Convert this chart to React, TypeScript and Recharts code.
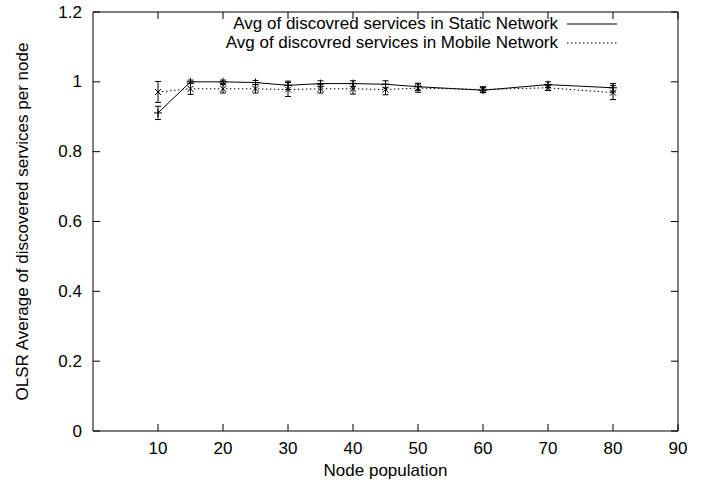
import React from 'react';
import { LineChart, Line, XAxis, YAxis, ErrorBar, Legend } from 'recharts';

const nodes = [10, 15, 20, 25, 30, 35, 40, 45, 50, 60, 70, 80];
const staticAvg = [0.911, 1.0, 1.0, 0.998, 0.99, 0.995, 0.995, 0.993, 0.986, 0.976, 0.992, 0.983];
const staticErr = [0.019, 0.005, 0.005, 0.006, 0.012, 0.008, 0.008, 0.01, 0.01, 0.007, 0.008, 0.012];
const mobileAvg = [0.971, 0.98, 0.98, 0.98, 0.978, 0.98, 0.98, 0.978, 0.982, 0.978, 0.983, 0.969];
const mobileErr = [0.03, 0.016, 0.012, 0.012, 0.02, 0.012, 0.015, 0.015, 0.012, 0.008, 0.008, 0.02];

const xTicks = [10, 20, 30, 40, 50, 60, 70, 80, 90];
const yTicks = [0, 0.2, 0.4, 0.6, 0.8, 1, 1.2];

const staticName = 'Avg of discovred services in Static Network';
const mobileName = 'Avg of discovred services in Mobile Network';

const FONT = '"Liberation Sans", Arial, Helvetica, sans-serif';
const FS = 17;
const TICK = 7;

const data = nodes.map((n, i) => ({
  n,
  s: staticAvg[i],
  sErr: staticErr[i],
  m: mobileAvg[i],
  mErr: mobileErr[i],
}));

const BottomTick = ({ x, y, payload }: any) => (
  <g>
    <line x1={x} x2={x} y1={y} y2={y - TICK} stroke="#000" />
    <text x={x} y={y + 17} textAnchor="middle" dominantBaseline="central"
      fontFamily={FONT} fontSize={FS} fill="#000">{payload.value}</text>
  </g>
);

const TopTick = ({ x, y }: any) => (
  <line x1={x} x2={x} y1={y} y2={y + TICK} stroke="#000" />
);

const LeftTick = ({ x, y, payload }: any) => (
  <g>
    <line x1={x} x2={x + TICK} y1={y} y2={y} stroke="#000" />
    <text x={x - 11} y={y} textAnchor="end" dominantBaseline="central"
      fontFamily={FONT} fontSize={FS} fill="#000">{payload.value}</text>
  </g>
);

const RightTick = ({ x, y }: any) => (
  <line x1={x} x2={x - TICK} y1={y} y2={y} stroke="#000" />
);

const PlusDot = (p: any) => {
  const { cx, cy, key } = p;
  if (cx == null || cy == null) return <g key={key} />;
  return <path key={key} d={`M${cx - 4},${cy}H${cx + 4}M${cx},${cy - 4}V${cy + 4}`} stroke="#000" strokeWidth={1} fill="none" />;
};

const CrossDot = (p: any) => {
  const { cx, cy, key } = p;
  if (cx == null || cy == null) return <g key={key} />;
  return <path key={key} d={`M${cx - 3},${cy - 3}L${cx + 3},${cy + 3}M${cx - 3},${cy + 3}L${cx + 3},${cy - 3}`} stroke="#000" strokeWidth={1} fill="none" />;
};

const LegendBox = () => (
  <div style={{ fontFamily: FONT, fontSize: FS, color: '#000', width: 617 }}>
    {[
      { name: staticName, dash: undefined },
      { name: mobileName, dash: '1.5 2.5' },
    ].map((r) => (
      <div key={r.name} style={{ display: 'flex', justifyContent: 'flex-end', alignItems: 'center', height: 19 }}>
        <span style={{ marginRight: 9, lineHeight: '19px' }}>{r.name}</span>
        <svg width={50} height={4}>
          <line x1={0} x2={50} y1={2} y2={2} stroke="#000" strokeDasharray={r.dash} />
        </svg>
      </div>
    ))}
  </div>
);

export default function App() {
  return (
    <div style={{ position: 'absolute', left: 0, top: 0, width: 706, height: 487, background: '#fff' }}>
      <LineChart width={706} height={487} data={data} margin={{ top: 11, right: 27, left: 0, bottom: 0 }}>
        <XAxis xAxisId="b" dataKey="n" type="number" domain={[0, 90]} ticks={xTicks} interval={0}
          height={56} tickSize={0} tickMargin={0} tickLine={false} tick={<BottomTick />}
          axisLine={{ stroke: '#000' }}
          label={{
            content: ({ viewBox }: any) => (
              <text x={viewBox.x + viewBox.width / 2} y={viewBox.y + 39} textAnchor="middle"
                dominantBaseline="central" fontFamily={FONT} fontSize={FS} fill="#000">Node population</text>
            ),
          }} />
        <XAxis xAxisId="t" dataKey="n" type="number" domain={[0, 90]} ticks={xTicks} interval={0}
          orientation="top" height={1} tickSize={0} tickMargin={0} tickLine={false} tick={<TopTick />}
          axisLine={{ stroke: '#000' }} />
        <YAxis yAxisId="l" type="number" domain={[0, 1.2]} ticks={yTicks} interval={0}
          width={93} tickSize={0} tickMargin={0} tickLine={false} tick={<LeftTick />}
          axisLine={{ stroke: '#000' }}
          label={{
            content: ({ viewBox }: any) => {
              const cx = viewBox.x + 22;
              const cy = viewBox.y + viewBox.height / 2;
              return (
                <text x={cx} y={cy} transform={`rotate(-90 ${cx} ${cy})`} textAnchor="middle"
                  dominantBaseline="central" fontFamily={FONT} fontSize={FS} fill="#000">
                  OLSR Average of discovered services per node
                </text>
              );
            },
          }} />
        <YAxis yAxisId="r" dataKey="s" type="number" domain={[0, 1.2]} ticks={yTicks} interval={0}
          orientation="right" width={1} tickSize={0} tickMargin={0} tickLine={false} tick={<RightTick />}
          axisLine={{ stroke: '#000' }} />
        <Legend layout="vertical" align="center" verticalAlign="middle" content={<LegendBox />}
          wrapperStyle={{ position: 'absolute', top: 14, left: 0, width: 617 }} />
        <Line xAxisId="b" yAxisId="l" dataKey="s" name={staticName} stroke="#000" strokeWidth={1}
          dot={PlusDot} activeDot={false} isAnimationActive={false}>
          <ErrorBar dataKey="sErr" width={3} stroke="#000" strokeWidth={1} direction="y" isAnimationActive={false} />
        </Line>
        <Line xAxisId="b" yAxisId="l" dataKey="m" name={mobileName} stroke="#000" strokeWidth={1}
          strokeDasharray="1.5 2.5" dot={CrossDot} activeDot={false} isAnimationActive={false}>
          <ErrorBar dataKey="mErr" width={3} stroke="#000" strokeWidth={1} direction="y" isAnimationActive={false} />
        </Line>
      </LineChart>
    </div>
  );
}
